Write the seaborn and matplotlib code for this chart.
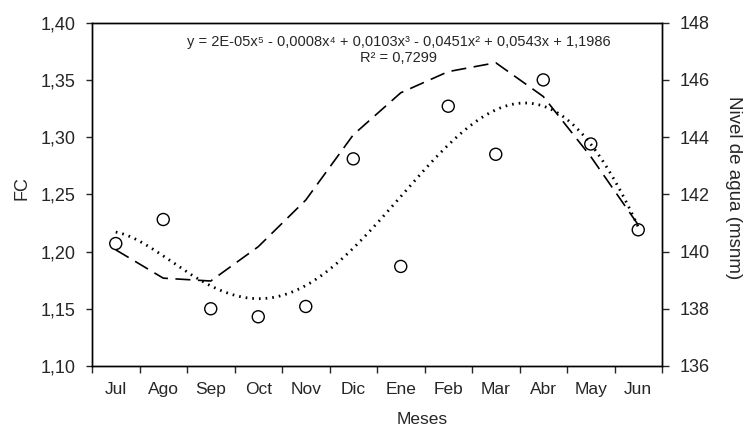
import numpy as np
import pandas as pd
import seaborn as sns
import matplotlib.pyplot as plt

months = ['Jul', 'Ago', 'Sep', 'Oct', 'Nov', 'Dic', 'Ene', 'Feb', 'Mar', 'Abr', 'May', 'Jun']
fc = [1.207, 1.228, 1.150, 1.143, 1.152, 1.281, 1.187, 1.327, 1.285, 1.350, 1.294, 1.219]
nivel = [140.06, 139.07, 138.97, 140.17, 141.80, 144.08, 145.55, 146.29, 146.60, 145.42, 143.32, 140.93]

sns.set_style('ticks')
plt.rcParams['font.family'] = ['Liberation Sans', 'DejaVu Sans']

df = pd.DataFrame({'x': np.arange(len(months)), 'fc': fc, 'nivel': nivel})

# polynomial trendline (order 5) fitted on the FC values, like the spreadsheet
coef = np.polyfit(df['x'] + 1, df['fc'], 5)
xs = np.linspace(0, len(months) - 1, 300)
trend = pd.DataFrame({'x': xs, 'y': np.polyval(coef, xs + 1)})

fig = plt.figure(figsize=(7.45, 4.28), dpi=100)
ax = fig.add_axes([0.1235, 0.1449, 0.7651, 0.8021])
ax2 = ax.twinx()

sns.scatterplot(data=df, x='x', y='fc', ax=ax, s=75, facecolor='none',
                edgecolor='black', linewidth=1.0, zorder=3)
sns.lineplot(data=trend, x='x', y='y', ax=ax, color='black', linewidth=2.0,
             linestyle=(0, (0.6, 1.8)), zorder=2)
sns.lineplot(data=df, x='x', y='nivel', ax=ax2, color='black', linewidth=1.2,
             linestyle=(0, (9, 4.5)))

ax.set_xlim(-0.5, len(months) - 0.5)
ax.set_ylim(1.10, 1.40)
ax.set_yticks(np.arange(1.10, 1.401, 0.05))
ax.set_yticklabels([f'{v:.2f}'.replace('.', ',') for v in np.arange(1.10, 1.401, 0.05)])
ax.set_xticks(np.arange(len(months)))
ax.set_xticklabels(months)
ax.set_xticks(np.arange(-0.5, len(months)), minor=True)
ax.tick_params(axis='x', which='major', length=0, labelsize=12.5, pad=11.5)
ax.tick_params(axis='x', which='minor', length=5, width=1)
ax.tick_params(axis='y', length=4.5, width=1, labelsize=13, pad=7.5)
ax.set_xlabel('Meses', fontsize=12.5)
ax.xaxis.set_label_coords(0.579, -0.135)
ax.set_ylabel('FC', fontsize=13, va='center')
ax.yaxis.set_label_coords(-0.123, 0.519)

ax2.set_ylim(136, 148)
ax2.set_yticks(np.arange(136, 149, 2))
ax2.tick_params(axis='y', length=5, width=1, labelsize=13, pad=7.5)
ax2.set_ylabel('Nivel de agua (msnm)', fontsize=13.5, rotation=270, va='center')
ax2.yaxis.set_label_coords(1.126, 0.52)

for a in (ax, ax2):
    for s in a.spines.values():
        s.set_linewidth(1.0)
        s.set_color('black')

ax.text(0.538, 0.965, 'y = 2E-05x⁵ - 0,0008x⁴ + 0,0103x³ - 0,0451x² + 0,0543x + 1,1986',
        transform=ax.transAxes, ha='center', va='top', fontsize=10.5)
ax.text(0.538, 0.918, 'R² = 0,7299', transform=ax.transAxes, ha='center', va='top',
        fontsize=10.5)

fig.savefig('out.png', dpi=100)
